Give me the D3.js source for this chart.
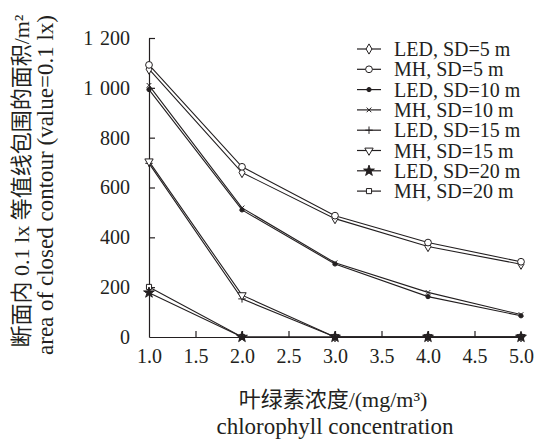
<!DOCTYPE html>
<html>
<head>
	<meta charset="utf-8">
	<title>chlorophyll vs contour area</title>
	<script src="https://d3js.org/d3.v7.min.js"></script>
	<style>
		body { margin: 0; background: #fff; }
		svg text { font-family: "Liberation Serif", "Times New Roman", "Noto Sans CJK SC", serif !important; fill: #231f20; }
	</style>
</head>
<body>
	<script>
		// chlorophyll concentration (mg/m3)
		var chl = [1.0, 2.0, 3.0, 4.0, 5.0];

		// area of closed contour (value = 0.1 lx), m2
		var ledSD5  = [1075, 660, 475, 363, 292];
		var mhSD5   = [1092, 683, 487, 379, 302];
		var ledSD10 = [993, 510, 293, 162, 85];
		var mhSD10  = [1010, 518, 298, 179, 90];
		var ledSD15 = [697, 153, 0, 0, 0];
		var mhSD15  = [705, 168, 0, 0, 0];
		var ledSD20 = [178, 0, 0, 0, 0];
		var mhSD20  = [201, 0, 0, 0, 0];

		var seriesNames = ["LED, SD=5 m", "MH, SD=5 m", "LED, SD=10 m", "MH, SD=10 m",
			"LED, SD=15 m", "MH, SD=15 m", "LED, SD=20 m", "MH, SD=20 m"];
		var seriesValues = [ledSD5, mhSD5, ledSD10, mhSD10, ledSD15, mhSD15, ledSD20, mhSD20];

		var xTicks = [1.0, 1.5, 2.0, 2.5, 3.0, 3.5, 4.0, 4.5, 5.0];
		var yTicks = [0, 200, 400, 600, 800, 1000, 1200];

		var ink = "#231f20";
		var serif = "'Liberation Serif', 'Times New Roman', 'Noto Sans CJK SC', serif";

		// marker style per series
		var markers = [
			{type: d3.symbolDiamond, size: 30, fill: "#fff", rot: 0},
			{type: d3.symbolCircle, size: 36, fill: "#fff", rot: 0},
			{type: d3.symbolCircle, size: 14, fill: ink, rot: 0},
			{type: d3.symbolTimes, size: 16, fill: "none", rot: 0},
			{type: d3.symbolPlus, size: 20, fill: "none", rot: 0},
			{type: d3.symbolTriangle, size: 30, fill: "#fff", rot: 180},
			{type: d3.symbolStar, size: 36, fill: ink, rot: 0},
			{type: d3.symbolSquare, size: 26, fill: "#fff", rot: 0}
		];

		var svgWidth = 537,
			svgHeight = 441,
			svg = d3.select("body")
				.append("svg")
				.attr("width", svgWidth)
				.attr("height", svgHeight)
				.attr("font-family", serif);

		var x = d3.scaleLinear().domain([1, 5]).range([149, 521]),
			y = d3.scaleLinear().domain([0, 1200]).range([337, 38]);

		// "1 000" style thousands
		var fmtY = function(d) { return d >= 1000 ? Math.floor(d / 1000) + "\u2004" + d3.format("03d")(d % 1000) : d; };

		// axes (ticks pointing inside)
		var gx = svg.append("g")
			.attr("transform", "translate(0," + y(0) + ")")
			.call(d3.axisBottom(x).tickValues(xTicks).tickFormat(d3.format(".1f")).tickSizeInner(-6).tickSizeOuter(0).tickPadding(12));
		var gy = svg.append("g")
			.attr("transform", "translate(" + x(1) + ",0)")
			.call(d3.axisLeft(y).tickValues(yTicks).tickFormat(fmtY).tickSizeInner(-6).tickSizeOuter(0).tickPadding(19));

		svg.selectAll("g").attr("font-family", serif);
		svg.selectAll(".domain, .tick line").attr("stroke", ink).attr("stroke-width", 1.2);
		gx.selectAll(".tick text").attr("font-size", 20).attr("dy", "0.71em").attr("fill", ink);
		gx.selectAll(".tick").filter(function(d) { return d === 1 || d === 5; }).select("line").remove();
		gy.selectAll(".tick text").attr("font-size", 20).attr("fill", ink);
		gy.selectAll(".tick").filter(function(d) { return d === 0; }).select("line").remove();

		// lines
		var line = d3.line()
			.x(function(d, i) { return x(chl[i]); })
			.y(function(d) { return y(d); });

		var plot = svg.append("g");
		seriesValues.forEach(function(vals) {
			plot.append("path")
				.datum(vals)
				.attr("d", line)
				.attr("fill", "none")
				.attr("stroke", ink)
				.attr("stroke-width", 1.1);
		});

		function drawMarker(sel, m) {
			sel.append("path")
				.attr("d", d3.symbol().type(m.type).size(m.size))
				.attr("transform", function(d) { return "translate(" + d[0] + "," + d[1] + ") rotate(" + m.rot + ")"; })
				.attr("fill", m.fill)
				.attr("stroke", ink)
				.attr("stroke-width", 1);
		}

		// markers; the filled star goes on top where series meet at zero
		[0, 1, 2, 3, 4, 5, 7, 6].forEach(function(s) {
			var pts = seriesValues[s].map(function(v, i) { return [x(chl[i]), y(v)]; });
			plot.append("g").selectAll("g").data(pts).enter().append("g")
				.each(function(d) { drawMarker(d3.select(this), markers[s]); });
		});

		// legend
		var legend = svg.append("g");
		seriesNames.forEach(function(name, i) {
			var ly = 49 + i * 20.3;
			legend.append("line")
				.attr("x1", 357).attr("x2", 381)
				.attr("y1", ly).attr("y2", ly)
				.attr("stroke", ink).attr("stroke-width", 1.2);
			drawMarker(legend.append("g").datum([369, ly]), markers[i]);
			legend.append("text")
				.attr("x", 394).attr("y", ly + 7)
				.attr("font-size", 20)
				.text(name);
		});

		// axis titles
		svg.append("text")
			.attr("x", 333).attr("y", 407)
			.attr("text-anchor", "middle")
			.attr("font-size", 22)
			.text("叶绿素浓度/(mg/m³)");
		svg.append("text")
			.attr("x", 335).attr("y", 434)
			.attr("text-anchor", "middle")
			.attr("font-size", 23)
			.text("chlorophyll concentration");

		svg.append("text")
			.attr("transform", "translate(29,181) rotate(-90)")
			.attr("text-anchor", "middle")
			.attr("font-size", 22)
			.text("断面内 0.1 lx 等值线包围的面积/m²");
		svg.append("text")
			.attr("transform", "translate(53,185) rotate(-90)")
			.attr("text-anchor", "middle")
			.attr("font-size", 23)
			.text("area of closed contour (value=0.1 lx)");
	</script>
</body>
</html>
